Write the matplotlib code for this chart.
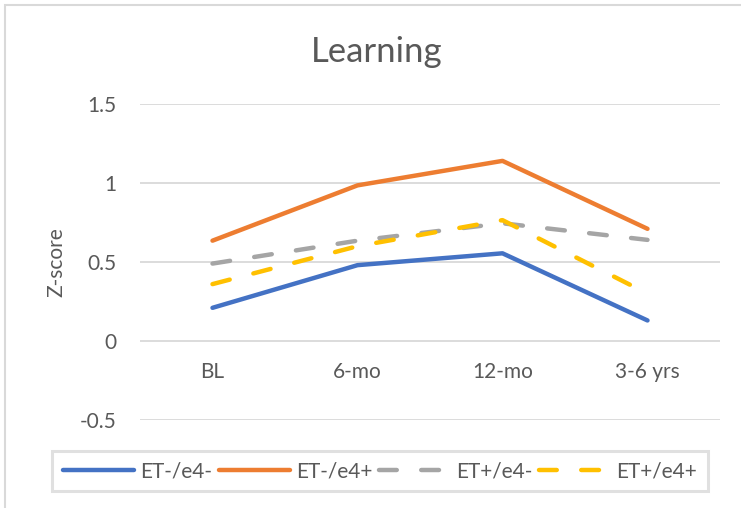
#!/usr/bin/env python3
"""
Learning Z-score trends by ET / e4 group
"""
import matplotlib
matplotlib.use('Agg')
import matplotlib.pyplot as plt
from matplotlib.patches import Rectangle

# Data
timepoints = ['BL', '6-mo', '12-mo', '3-6 yrs']
et_neg_e4_neg = [0.21, 0.48, 0.555, 0.13]
et_neg_e4_pos = [0.635, 0.985, 1.14, 0.71]
et_pos_e4_neg = [0.49, 0.635, 0.745, 0.64]
et_pos_e4_pos = [0.36, 0.60, 0.765, 0.30]
series_names = ['ET-/e4-', 'ET-/e4+', 'ET+/e4-', 'ET+/e4+']
y_ticks = [-0.5, 0, 0.5, 1, 1.5]

plt.rcParams['font.family'] = ['Lato', 'DejaVu Sans']
text_color = '#595959'
grid_color = '#d9d9d9'
fs = 15

fig = plt.figure(figsize=(7.41, 5.08), dpi=100)
ax = fig.add_axes([140 / 741, (508 - 420) / 508, 580 / 741, 316 / 508])

# Outer chart border
fig.patches.append(Rectangle((5 / 741, -0.1), 1.2, 1.1 - 5 / 508,
                             transform=fig.transFigure, fill=False,
                             edgecolor=grid_color, linewidth=1.5))

x = range(len(timepoints))
lw = 3.2
dash = (0, (4.0, 5.5))
ax.plot(x, et_neg_e4_neg, color='#4472C4', linewidth=lw,
        solid_capstyle='round', label=series_names[0])
ax.plot(x, et_neg_e4_pos, color='#ED7D31', linewidth=lw,
        solid_capstyle='round', label=series_names[1])
ax.plot(x, et_pos_e4_neg, color='#A5A5A5', linewidth=lw, linestyle=dash,
        dash_capstyle='round', label=series_names[2])
ax.plot(x, et_pos_e4_pos, color='#FFC000', linewidth=lw, linestyle=dash,
        dash_capstyle='round', label=series_names[3])

ax.set_xlim(-0.5, 3.5)
ax.set_ylim(-0.5, 1.5)
ax.set_yticks(y_ticks)
ax.set_yticklabels(['-0.5', '0', '0.5', '1', '1.5'])
ax.set_xticks(list(x))
ax.set_xticklabels(timepoints)
# category labels sit under the zero line, like Excel
ax.spines['bottom'].set_position(('data', 0))
ax.tick_params(axis='both', length=0, labelsize=fs, colors=text_color)
ax.tick_params(axis='y', pad=17)
ax.tick_params(axis='x', pad=15)
for s in ax.spines.values():
    s.set_visible(False)
ax.grid(axis='y', color=grid_color, linewidth=1.3)
ax.set_axisbelow(True)

fig.text(56 / 741, 1 - 262 / 508, 'Z-score', fontsize=fs, color=text_color,
         rotation=90, ha='center', va='center')
fig.text(377 / 741, 1 - 62 / 508, 'Learning', fontsize=25, color=text_color,
         ha='center', va='baseline')

leg = fig.legend(loc='center', ncol=4, mode='expand',
                 bbox_to_anchor=(42 / 741, 13 / 508, 676 / 741, 48 / 508),
                 fontsize=fs, handlelength=3.4, handletextpad=0.3,
                 columnspacing=0.7, frameon=True, fancybox=False,
                 borderpad=0.5, labelcolor=text_color)
leg.get_frame().set_edgecolor(grid_color)
leg.get_frame().set_linewidth(2.2)

fig.savefig('out.png', dpi=100)
